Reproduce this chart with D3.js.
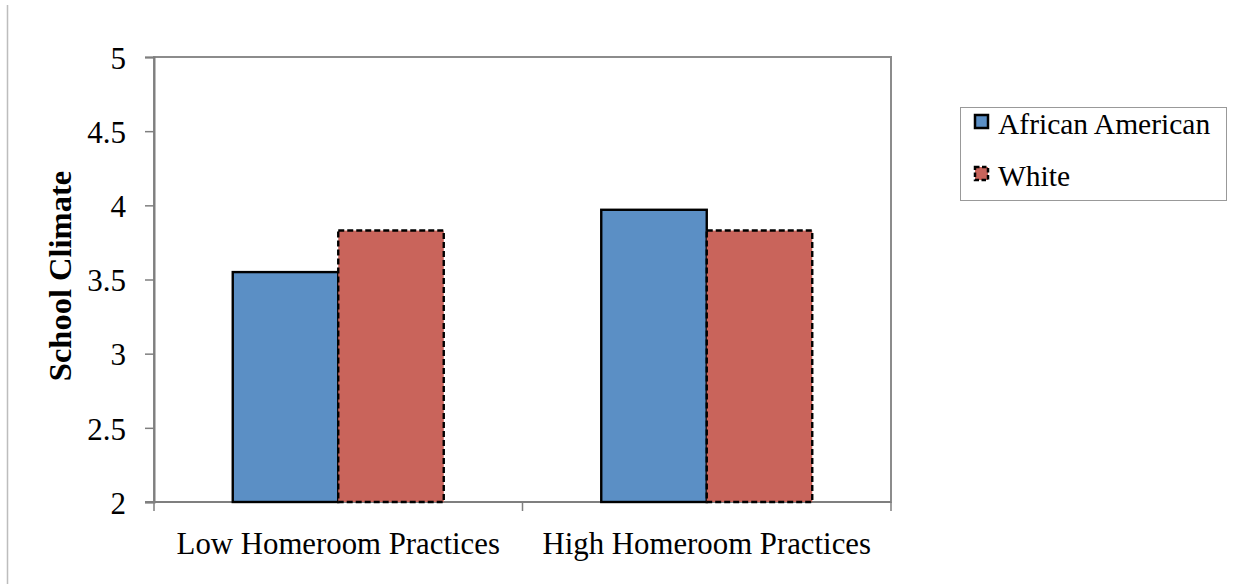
<!DOCTYPE html>
<html>
<head>
<meta charset="utf-8">
<script src="https://cdn.jsdelivr.net/npm/d3@7"></script>
<style>
  html, body { margin: 0; padding: 0; background: #fff; }
  svg { display: block; }
  text { font-family: "Liberation Serif", "Times New Roman", serif; fill: #000; }
</style>
</head>
<body>
<svg id="chart" width="1239" height="584"></svg>
<script>
// Mean school climate by homeroom practice level and student group
const categories = ["Low Homeroom Practices", "High Homeroom Practices"];
const seriesNames = ["African American", "White"];
const africanAmerican = [3.55, 3.97];
const white = [3.83, 3.83];
const yTicks = [2, 2.5, 3, 3.5, 4, 4.5, 5];
const yTitle = "School Climate";

const seriesValues = [africanAmerican, white];
const fills = ["#5B8FC5", "#C9645B"];
const dashes = [null, "6,3"];

const svg = d3.select("#chart");
const plot = { left: 154, right: 891, top: 57, bottom: 502 };

// outer frame line on the left edge
svg.append("line")
  .attr("x1", 7.5).attr("x2", 7.5).attr("y1", 5).attr("y2", 584)
  .attr("stroke", "#bdbdbd").attr("stroke-width", 1.5);

const x0 = d3.scaleBand()
  .domain(categories)
  .range([plot.left, plot.right])
  .paddingInner(0.4274)
  .paddingOuter(0.2137);

const x1 = d3.scaleBand()
  .domain(seriesNames)
  .range([0, x0.bandwidth()])
  .padding(0);

const y = d3.scaleLinear().domain([2, 5]).range([plot.bottom, plot.top]);

// plot area border
svg.append("rect")
  .attr("x", plot.left).attr("y", plot.top)
  .attr("width", plot.right - plot.left).attr("height", plot.bottom - plot.top)
  .attr("fill", "none").attr("stroke", "#8c8c8c").attr("stroke-width", 2);

// y axis
const yAxis = d3.axisLeft(y).tickValues(yTicks).tickSize(9).tickPadding(19)
  .tickFormat(d => String(d));
const gy = svg.append("g")
  .attr("transform", `translate(${plot.left},0)`)
  .call(yAxis)
  .attr("font-family", "Liberation Serif, serif")
  .attr("font-size", 31);
gy.select(".domain").attr("stroke", "#7f7f7f").attr("stroke-width", 2);
gy.selectAll("line").attr("stroke", "#7f7f7f").attr("stroke-width", 1.5);
gy.selectAll("text").attr("fill", "#000").attr("dy", "0.36em");

// x axis with tick marks at category boundaries
const gx = svg.append("g").attr("transform", `translate(0,${plot.bottom})`);
gx.append("line").attr("x1", plot.left - 9).attr("x2", plot.right)
  .attr("y1", 0).attr("y2", 0).attr("stroke", "#7f7f7f").attr("stroke-width", 2);
const boundaries = [plot.left, ...categories.map(c => x0(c) + x0.bandwidth() + x0.step() * x0.paddingInner() / 2)];
gx.selectAll(".bt").data(boundaries).enter().append("line")
  .attr("x1", d => d).attr("x2", d => d).attr("y1", 0).attr("y2", 9)
  .attr("stroke", "#7f7f7f").attr("stroke-width", 1.5);
gx.selectAll(".cl").data(categories).enter().append("text")
  .attr("x", d => x0(d) + x0.bandwidth() / 2)
  .attr("y", 52)
  .attr("text-anchor", "middle")
  .attr("font-size", 30.8)
  .text(d => d);

// bars
const groups = svg.selectAll(".grp").data(categories).enter().append("g")
  .attr("transform", d => `translate(${x0(d)},0)`);
groups.selectAll("rect")
  .data((c, i) => seriesNames.map((s, j) => ({ s, j, v: seriesValues[j][i] })))
  .enter().append("rect")
  .attr("x", d => x1(d.s))
  .attr("y", d => y(d.v))
  .attr("width", x1.bandwidth())
  .attr("height", d => y(2) - y(d.v))
  .attr("fill", d => fills[d.j])
  .attr("stroke", "#000")
  .attr("stroke-width", 2.4)
  .attr("stroke-dasharray", d => dashes[d.j]);

// y axis title
svg.append("text")
  .attr("transform", "translate(71,276) rotate(-90)")
  .attr("text-anchor", "middle")
  .attr("font-size", 32.5)
  .attr("font-weight", "bold")
  .text(yTitle);

// legend
const lg = svg.append("g");
lg.append("rect").attr("x", 960.5).attr("y", 107.5).attr("width", 266).attr("height", 93)
  .attr("fill", "#fff").attr("stroke", "#999").attr("stroke-width", 1);
seriesNames.forEach((s, j) => {
  const base = 134 + j * 52;
  lg.append("rect").attr("x", 975).attr("y", base - 19).attr("width", 13).attr("height", 13)
    .attr("fill", fills[j]).attr("stroke", "#000").attr("stroke-width", 2.5)
    .attr("stroke-dasharray", j === 1 ? "4.5,2.5" : null);
  lg.append("text").attr("x", 998).attr("y", base).attr("font-size", 29.5).text(s);
});
</script>
</body>
</html>
